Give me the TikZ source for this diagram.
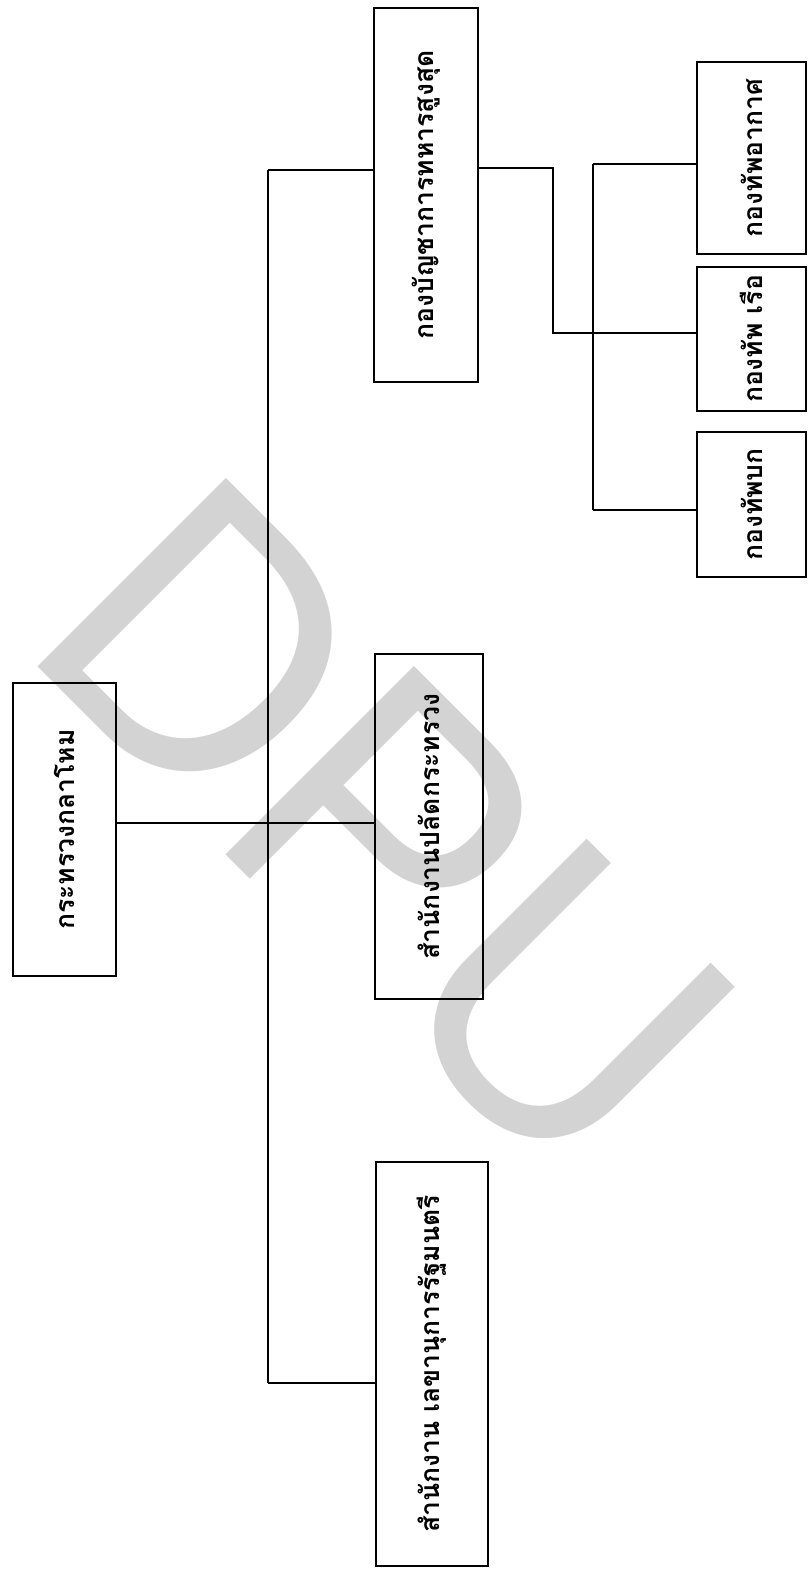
\documentclass[tikz,border=0pt]{standalone}
\usepackage{fontspec}
\usepackage{tikz}
\usetikzlibrary{calc}
\newfontfamily\thaifont[Script=Thai]{Loma}
\newfontfamily\wmfont{Liberation Sans}
\definecolor{wmgray}{RGB}{211,211,211}

\begin{document}
\begin{tikzpicture}[x=1pt, y=-1pt,
        box/.style={draw, line width=2.6pt, inner sep=0pt, font=\thaifont\bfseries\fontsize{26.5}{26.5}\selectfont},
        link/.style={line width=1.7pt},
        wm/.style={text=wmgray, inner sep=0pt, font=\wmfont\fontsize{369}{369}\selectfont}]
        \useasboundingbox (0,0) rectangle (807,1574);
        \node[wm, rotate=-45, yscale=1.05, anchor=base west] (wmark) at (16,645) {DPU};

        \node[box, minimum width=103pt, minimum height=293pt] (moh) at (64.5,829.5) {\rotatebox{90}{กระทรวงกลาโหม}};
        \node[box, minimum width=104pt, minimum height=374pt] (hq) at (426,195) {\rotatebox{90}{กองบัญชาการทหารสูงสุด}};
        \node[box, minimum width=108pt, minimum height=345pt] (ops) at (429,826.5) {\rotatebox{90}{สำนักงานปลัดกระทรวง}};
        \node[box, minimum width=112pt, minimum height=404pt] (sec) at (432,1364) {\rotatebox{90}{สำนักงาน เลขานุการรัฐมนตรี}};
        \node[box, minimum width=109pt, minimum height=192pt] (air) at (751.5,158) {\rotatebox{90}{กองทัพอากาศ}};
        \node[box, minimum width=109pt, minimum height=144pt] (navy) at (751.5,339) {\rotatebox{90}{กองทัพ เรือ}};
        \node[box, minimum width=109pt, minimum height=145pt] (army) at (751.5,504.5) {\rotatebox{90}{กองทัพบก}};

        \coordinate (sp1) at (268,170);
        \coordinate (sp2) at (268,1383);
        \coordinate (jn) at (268,823);
        \coordinate (bend) at (553,168);
        \coordinate (bend2) at (553,333);
        \coordinate (sb1) at (593,164);
        \coordinate (sb2) at (593,510);

        \draw[link] (sp1) -- (sp2);
        \draw[link] (sp1) -- (sp1 -| hq.west);
        \draw[link] (sp2) -- (sp2 -| sec.west);
        \draw[link] (moh.east |- jn) -- (ops.west |- jn);
        \draw[link] (hq.east |- bend) -- (bend) -- (bend2) -- (bend2 -| navy.west);
        \draw[link] (sb1) -- (sb2);
        \draw[link] (sb1) -- (sb1 -| air.west);
        \draw[link] (sb2) -- (sb2 -| army.west);
      \end{tikzpicture}
\end{document}
